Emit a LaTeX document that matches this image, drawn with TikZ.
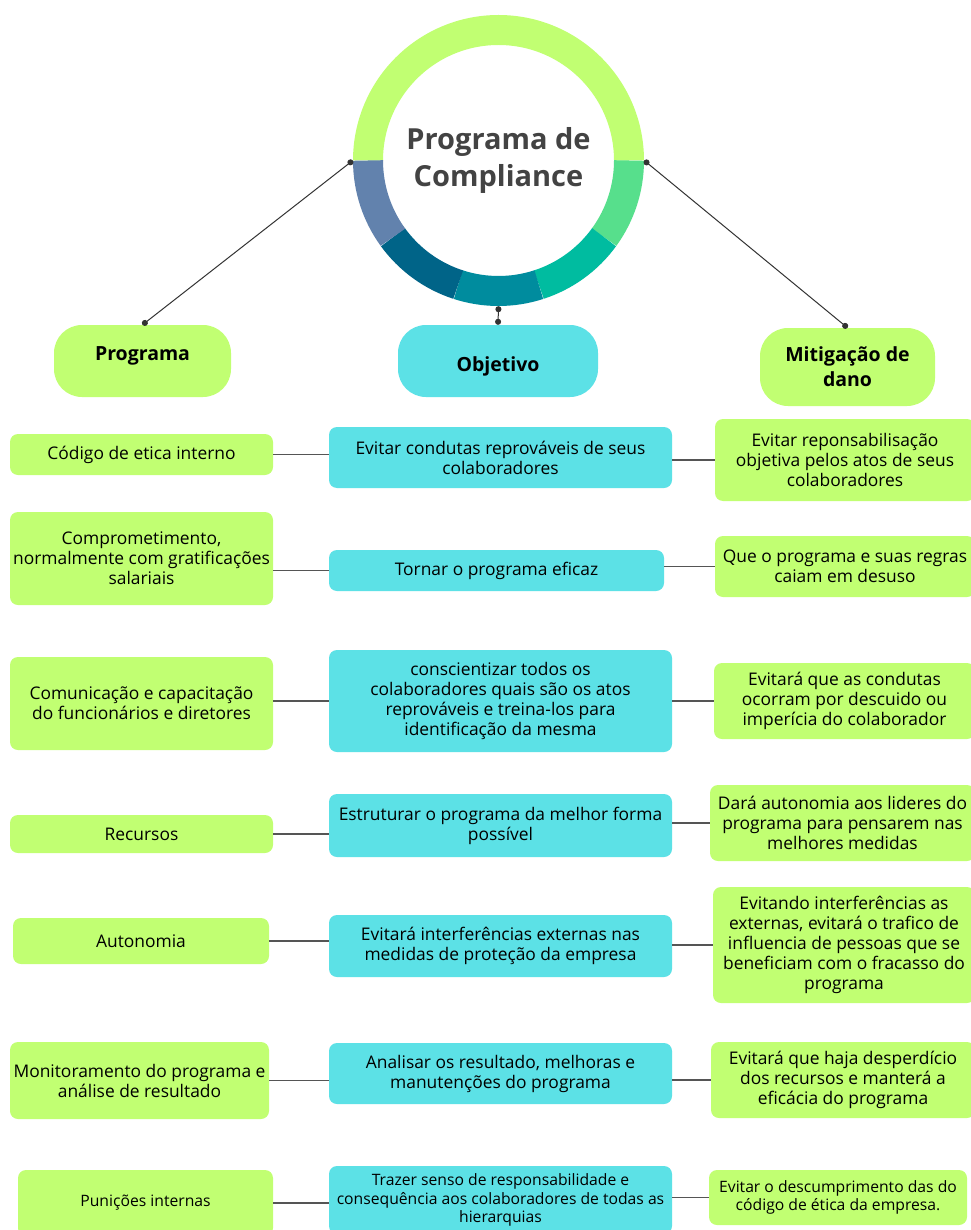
\documentclass[tikz,border=0pt]{standalone}
\usepackage{fontspec}
\setmainfont{Open Sans}
\usetikzlibrary{arrows.meta, calc}
\definecolor{LimeFill}{HTML}{C1FF72}
\definecolor{AquaFill}{HTML}{5CE1E6}
\definecolor{RingA}{HTML}{57DF8C}
\definecolor{RingB}{HTML}{00BCA0}
\definecolor{RingC}{HTML}{008C9E}
\definecolor{RingD}{HTML}{006488}
\definecolor{RingE}{HTML}{6282AD}
\definecolor{TitleGray}{HTML}{434343}
\definecolor{LinkGray}{HTML}{555555}
\newcommand{\leaffont}{\fontsize{17.4}{20}\selectfont}
\newcommand{\lowfont}{\fontsize{15.7}{18.5}\selectfont}
\newcommand{\headfont}{\fontsize{19.5}{25}\selectfont\bfseries}
\newcommand{\hubfont}{\fontsize{29}{37}\selectfont\bfseries}
\tikzset{
  leaf/.style={rectangle, rounded corners=8pt, fill=LimeFill, align=center,
    inner sep=2pt, font=\leaffont, text=black},
  goal/.style={leaf, fill=AquaFill},
  head/.style={rectangle, rounded corners=28pt, align=center,
    inner sep=0pt, font=\headfont, text=black},
  link/.style={draw=LinkGray, line width=1.3pt},
  spoke/.style={draw=black!80, line width=1pt,
    {Circle[length=6pt]}-{Circle[length=6pt]}},
}

\begin{document}
\begin{tikzpicture}[x=1pt, y=-1pt]

  \useasboundingbox (0,0) rectangle (970,1230);
  \fill[white] (0,0) rectangle (970,1230);

  % Centre ring
  \node[circle, minimum size=291pt, inner sep=0pt, align=center,
    font=\hubfont, text=TitleGray] (hub) at (498.5,160.5) {Programa de\\Compliance};
  \foreach \a/\b/\c in {180/360/LimeFill, 0/36/RingA, 36/72/RingB,
                        72/108/RingC, 108/144/RingD, 144/180/RingE}
    \draw[line width=30pt, \c] ($(hub.center)+(\a:130.5)$)
      arc[start angle=\a, end angle=\b, radius=130.5];

  % Column heads
  \node[head, fill=LimeFill, minimum width=177pt, minimum height=72pt,
    text height=14pt, text depth=16pt] (prog) at (142.5,361) {Programa};
  \node[head, fill=AquaFill, minimum width=200pt, minimum height=72pt,
    text height=24pt, text depth=4pt] (obj) at (498,361) {Objetivo};
  \node[head, fill=LimeFill, minimum width=175pt, minimum height=78pt]
    (mitig) at (847.5,367) {Mitigação de\\dano};

  \draw[spoke] (hub.west)  -- (prog.north);
  \draw[spoke] (hub.south) -- (obj.north);
  \draw[spoke] (hub.east)  -- (mitig.north);

  % Programa
  \node[leaf, minimum width=263pt, minimum height=41pt] (p1) at (141.5,454.5)
    {Código de etica interno};
  \node[leaf, minimum width=263pt, minimum height=93pt] (p2) at (141.5,558.5)
    {Comprometimento,\\normalmente com gratificações\\salariais};
  \node[leaf, minimum width=263pt, minimum height=93pt] (p3) at (141.5,703.5)
    {Comunicação e capacitação\\do funcionários e diretores};
  \node[leaf, minimum width=263pt, minimum height=38pt] (p4) at (141.5,834)
    {Recursos};
  \node[leaf, minimum width=256pt, minimum height=46pt] (p5) at (141,941)
    {Autonomia};
  \node[leaf, minimum width=259pt, minimum height=77pt] (p6) at (139.5,1080.5)
    {Monitoramento do programa e\\análise de resultado};
  \node[leaf, minimum width=255pt, minimum height=66pt, font=\lowfont] (p7) at (145.5,1203)
    {Punições internas};

  % Objetivo
  \node[goal, minimum width=343pt, minimum height=61pt] (o1) at (500.5,457.5)
    {Evitar condutas reprováveis de seus\\colaboradores};
  \node[goal, minimum width=335pt, minimum height=41pt] (o2) at (496.5,570.5)
    {Tornar o programa eficaz};
  \node[goal, minimum width=343pt, minimum height=102pt] (o3) at (500.5,701)
    {conscientizar todos os\\colaboradores quais são os atos\\reprováveis e treina-los para\\identificação da mesma};
  \node[goal, minimum width=343pt, minimum height=63pt] (o4) at (500.5,825.5)
    {Estruturar o programa da melhor forma\\possível};
  \node[goal, minimum width=343pt, minimum height=62pt] (o5) at (500.5,946)
    {Evitará interferências externas nas\\medidas de proteção da empresa};
  \node[goal, minimum width=343pt, minimum height=61pt] (o6) at (500.5,1073.5)
    {Analisar os resultado, melhoras e\\manutenções do programa};
  \node[goal, minimum width=343pt, minimum height=68pt, font=\lowfont] (o7) at (500.5,1200)
    {Trazer senso de responsabilidade e\\consequência aos colaboradores de todas as\\hierarquias};

  % Mitigacao de dano
  \node[leaf, minimum width=260pt, minimum height=82pt] (m1) at (845,460)
    {Evitar reponsabilisação\\objetiva pelos atos de seus\\colaboradores};
  \node[leaf, minimum width=260pt, minimum height=61pt] (m2) at (845,566.5)
    {Que o programa e suas regras\\caiam em desuso};
  \node[leaf, minimum width=261pt, minimum height=76pt] (m3) at (844.5,701)
    {Evitará que as condutas\\ocorram por descuido ou\\imperícia do colaborador};
  \node[leaf, minimum width=265pt, minimum height=76pt] (m4) at (842.5,823)
    {Dará autonomia aos lideres do\\programa para pensarem nas\\melhores medidas};
  \node[leaf, minimum width=262pt, minimum height=116pt] (m5) at (844,945)
    {Evitando interferências as\\externas, evitará o trafico de\\influencia de pessoas que se\\beneficiam com o fracasso do\\programa};
  \node[leaf, minimum width=264pt, minimum height=76pt] (m6) at (843,1080)
    {Evitará que haja desperdício\\dos recursos e manterá a\\eficácia do programa};
  \node[leaf, minimum width=258pt, minimum height=55pt, font=\lowfont] (m7) at (838,1197.5)
    {Evitar o descumprimento das do\\código de ética da empresa.};

  % Row links
  \draw[link] (p1.east) -- (p1.east -| o1.west);
  \draw[link] (o2.west -| p2.east) -- (o2.west);
  \draw[link] (o3.west -| p3.east) -- (o3.west);
  \foreach \i in {4,...,7}
    \draw[link] (p\i.east) -- (p\i.east -| o\i.west);
  \foreach \i in {1,...,7}
    \draw[link] (o\i.east |- m\i.west) -- (m\i.west);

\end{tikzpicture}
\end{document}
